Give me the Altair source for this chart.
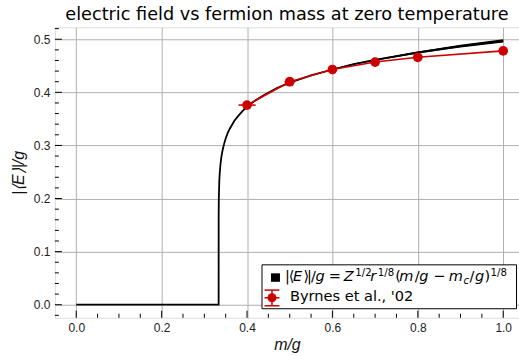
import altair as alt
import pandas as pd

# ---------------- data ----------------
curve_m = [0.0, 0.3335, 0.3336, 0.3338, 0.334, 0.335, 0.336, 0.338, 0.34, 0.343, 0.346,
           0.35, 0.355, 0.36, 0.37, 0.38, 0.39, 0.4, 0.42, 0.44, 0.47, 0.5, 0.55, 0.6,
           0.65, 0.7, 0.8, 0.9, 1.0]
curve_E = [0.0, 0.0, 0.165, 0.190, 0.202, 0.232, 0.247, 0.266, 0.279, 0.292, 0.302,
           0.313, 0.324, 0.332, 0.346, 0.356, 0.365, 0.373, 0.385, 0.395, 0.408, 0.418,
           0.432, 0.443, 0.453, 0.461, 0.475, 0.487, 0.497]
curve_band = [0.0, 0.0, 0.0, 0.0, 0.0, 0.0, 0.0, 0.0, 0.0, 0.0, 0.0,
              0.0, 0.0, 0.0, 0.0, 0.0, 0.0, 0.0, 0.0002, 0.0003, 0.0004, 0.0005,
              0.0008, 0.001, 0.0012, 0.0015, 0.002, 0.0025, 0.003]

byrnes_m = [0.4, 0.5, 0.6, 0.7, 0.8, 1.0]
byrnes_E = [0.376, 0.420, 0.443, 0.457, 0.466, 0.478]
byrnes_merr = [0.02, 0.012, 0.0, 0.0, 0.0, 0.0]

x_major = [0.0, 0.2, 0.4, 0.6, 0.8, 1.0]
x_minor = [0.05, 0.1, 0.15, 0.25, 0.3, 0.35, 0.45, 0.5, 0.55, 0.65, 0.7, 0.75,
           0.85, 0.9, 0.95]
y_major = [0.0, 0.1, 0.2, 0.3, 0.4, 0.5]
y_minor = [-0.02, 0.02, 0.04, 0.06, 0.08, 0.12, 0.14, 0.16, 0.18, 0.22, 0.24, 0.26,
           0.28, 0.32, 0.34, 0.36, 0.38, 0.42, 0.44, 0.46, 0.48, 0.52]

title_text = "electric field vs fermion mass at zero temperature"
x_title = "m/g"
y_title = "|⟨E⟩|/g"
legend_label_2 = "Byrnes et al., '02"

# ---------------- layout ----------------
W, H = 465, 291
FONT = "DejaVu Sans"
RED = "#cc0000"
xs = alt.Scale(domain=[-0.05, 1.037], nice=False, zero=False)
ys = alt.Scale(domain=[-0.0245, 0.5225], nice=False, zero=False)

x_axis = alt.Axis(values=x_major, format=".1f", title=x_title, grid=True, ticks=False,
                  domain=False, labelFontSize=12, labelPadding=5, labelColor="#222222",
                  titleFontSize=16, titleFontStyle="italic", titleFontWeight="normal",
                  titlePadding=3, titleColor="#111111", gridColor="#b0b0b0", gridWidth=1)
y_axis = alt.Axis(values=y_major, format=".1f", title=y_title, grid=True, ticks=False,
                  domain=False, labelFontSize=12, labelPadding=5, labelColor="#222222",
                  titleFontSize=16, titleFontStyle="italic", titleFontWeight="normal",
                  titlePadding=7, titleColor="#111111", gridColor="#b0b0b0", gridWidth=1)


def X(field):
    return alt.X(field, type="quantitative", scale=xs, axis=x_axis)


def Y(field):
    return alt.Y(field, type="quantitative", scale=ys, axis=y_axis)


curve_df = pd.DataFrame({"m": curve_m, "E": curve_E, "w": curve_band})
curve_df["lo"] = curve_df["E"] - curve_df["w"]
curve_df["hi"] = curve_df["E"] + curve_df["w"]
pts_df = pd.DataFrame({"m": byrnes_m, "E": byrnes_E, "merr": byrnes_merr})
pts_df["m0"] = pts_df["m"] - pts_df["merr"]
pts_df["m1"] = pts_df["m"] + pts_df["merr"]
err_df = pts_df[pts_df["merr"] > 0]

band = alt.Chart(curve_df).mark_area(color="black").encode(
    x=X("m"), y=Y("lo"), y2="hi")
line = alt.Chart(curve_df).mark_line(color="black", strokeWidth=1.8).encode(
    x=X("m"), y=Y("E"))
red_line = alt.Chart(pts_df).mark_line(color=RED, strokeWidth=1.6).encode(
    x=X("m"), y=Y("E"))
red_err = alt.Chart(err_df).mark_rule(color=RED, strokeWidth=1.6).encode(
    x=X("m0"), x2="m1", y=Y("E"))
red_pts = alt.Chart(pts_df).mark_point(filled=True, color=RED, size=95, opacity=1).encode(
    x=X("m"), y=Y("E"))

xmaj = alt.Chart(pd.DataFrame({"v": x_major})).mark_rule(color="black", strokeWidth=1).encode(
    x=X("v"), y=alt.value(H), y2=alt.value(H - 7))
xmin = alt.Chart(pd.DataFrame({"v": x_minor})).mark_rule(color="black", strokeWidth=1).encode(
    x=X("v"), y=alt.value(H), y2=alt.value(H - 4))
ymaj = alt.Chart(pd.DataFrame({"v": y_major})).mark_rule(color="black", strokeWidth=1).encode(
    y=Y("v"), x=alt.value(0), x2=alt.value(7))
ymin = alt.Chart(pd.DataFrame({"v": y_minor})).mark_rule(color="black", strokeWidth=1).encode(
    y=Y("v"), x=alt.value(0), x2=alt.value(4))

one = pd.DataFrame({"a": [0]})

legend_box = alt.Chart(one).mark_rect(fill="white", stroke="black", strokeWidth=1).encode(
    x=alt.value(207.5), x2=alt.value(462.5), y=alt.value(238), y2=alt.value(282))
leg_sq = alt.Chart(one).mark_rect(fill="black").encode(
    x=alt.value(216.5), x2=alt.value(225.5), y=alt.value(246.5), y2=alt.value(255))
leg_vbar = alt.Chart(one).mark_rule(color=RED, strokeWidth=1.5).encode(
    x=alt.value(217.5), y=alt.value(263.3), y2=alt.value(279))
leg_cap1 = alt.Chart(one).mark_rule(color=RED, strokeWidth=1.5).encode(
    x=alt.value(210), x2=alt.value(225), y=alt.value(263.3))
leg_cap2 = alt.Chart(one).mark_rule(color=RED, strokeWidth=1.5).encode(
    x=alt.value(210), x2=alt.value(225), y=alt.value(279))
leg_hbar = alt.Chart(one).mark_rule(color=RED, strokeWidth=1.5).encode(
    x=alt.value(210), x2=alt.value(225), y=alt.value(271))
leg_dot = alt.Chart(one).mark_point(filled=True, color=RED, size=80, opacity=1).encode(
    x=alt.value(217.5), y=alt.value(271))

# pieces of the mathtext label: (text, x, kind)
BASE1 = 254.5
pieces = [
    ("|", 230.5, "n"), ("⟨", 234.4, "n"), ("E", 238.5, "i"), ("⟩", 249, "n"),
    ("|", 252.5, "n"), ("/", 256.5, "n"), ("g", 261, "i"),
    ("=", 274.5, "n"), ("Z", 289.5, "i"), ("1/2", 301, "sup"), ("r", 316, "i"),
    ("1/8", 323.5, "sup"), ("(", 341, "n"), ("m", 345, "i"), ("/", 360.5, "n"),
    ("g", 365, "i"), ("−", 379, "n"), ("m", 394.5, "i"), ("c", 409.5, "sub"),
    ("/", 415.5, "n"), ("g", 421, "i"), (")", 430.5, "n"), ("1/8", 436.5, "sup"),
]
label_layers = []
for txt, px, kind in pieces:
    size = 14.5 if kind in ("n", "i") else 10.2
    style = "italic" if kind in ("i", "sub") else "normal"
    dy = {"n": 0, "i": 0, "sup": -5, "sub": 2.5}[kind]
    label_layers.append(
        alt.Chart(one).mark_text(text=txt, align="left", baseline="alphabetic", font=FONT,
                                 fontSize=size, fontStyle=style, color="black").encode(
            x=alt.value(px), y=alt.value(BASE1 + dy)))
label_layers.append(
    alt.Chart(one).mark_text(text=legend_label_2, align="left", baseline="alphabetic",
                             font=FONT, fontSize=14.6, color="black").encode(
        x=alt.value(235.5), y=alt.value(274)))

chart = alt.layer(
    band, line, red_line, red_err, red_pts, xmaj, xmin, ymaj, ymin,
    legend_box, leg_sq, leg_vbar, leg_cap1, leg_cap2, leg_hbar, leg_dot,
    *label_layers
).properties(
    width=W, height=H,
    padding={"left": 55, "top": 27, "right": 0, "bottom": 38},
    autosize=alt.AutoSizeParams(type="none"),
    title=alt.TitleParams(title_text, fontSize=17.7, font=FONT, fontWeight="normal",
                          anchor="middle", offset=4, color="black"),
).configure_view(
    stroke="black", strokeWidth=1.5, fill="white"
).configure_axis(
    labelFont=FONT, titleFont=FONT
).configure(background="white")

chart.save("out.html", embed_options={"renderer": "svg", "actions": False})
